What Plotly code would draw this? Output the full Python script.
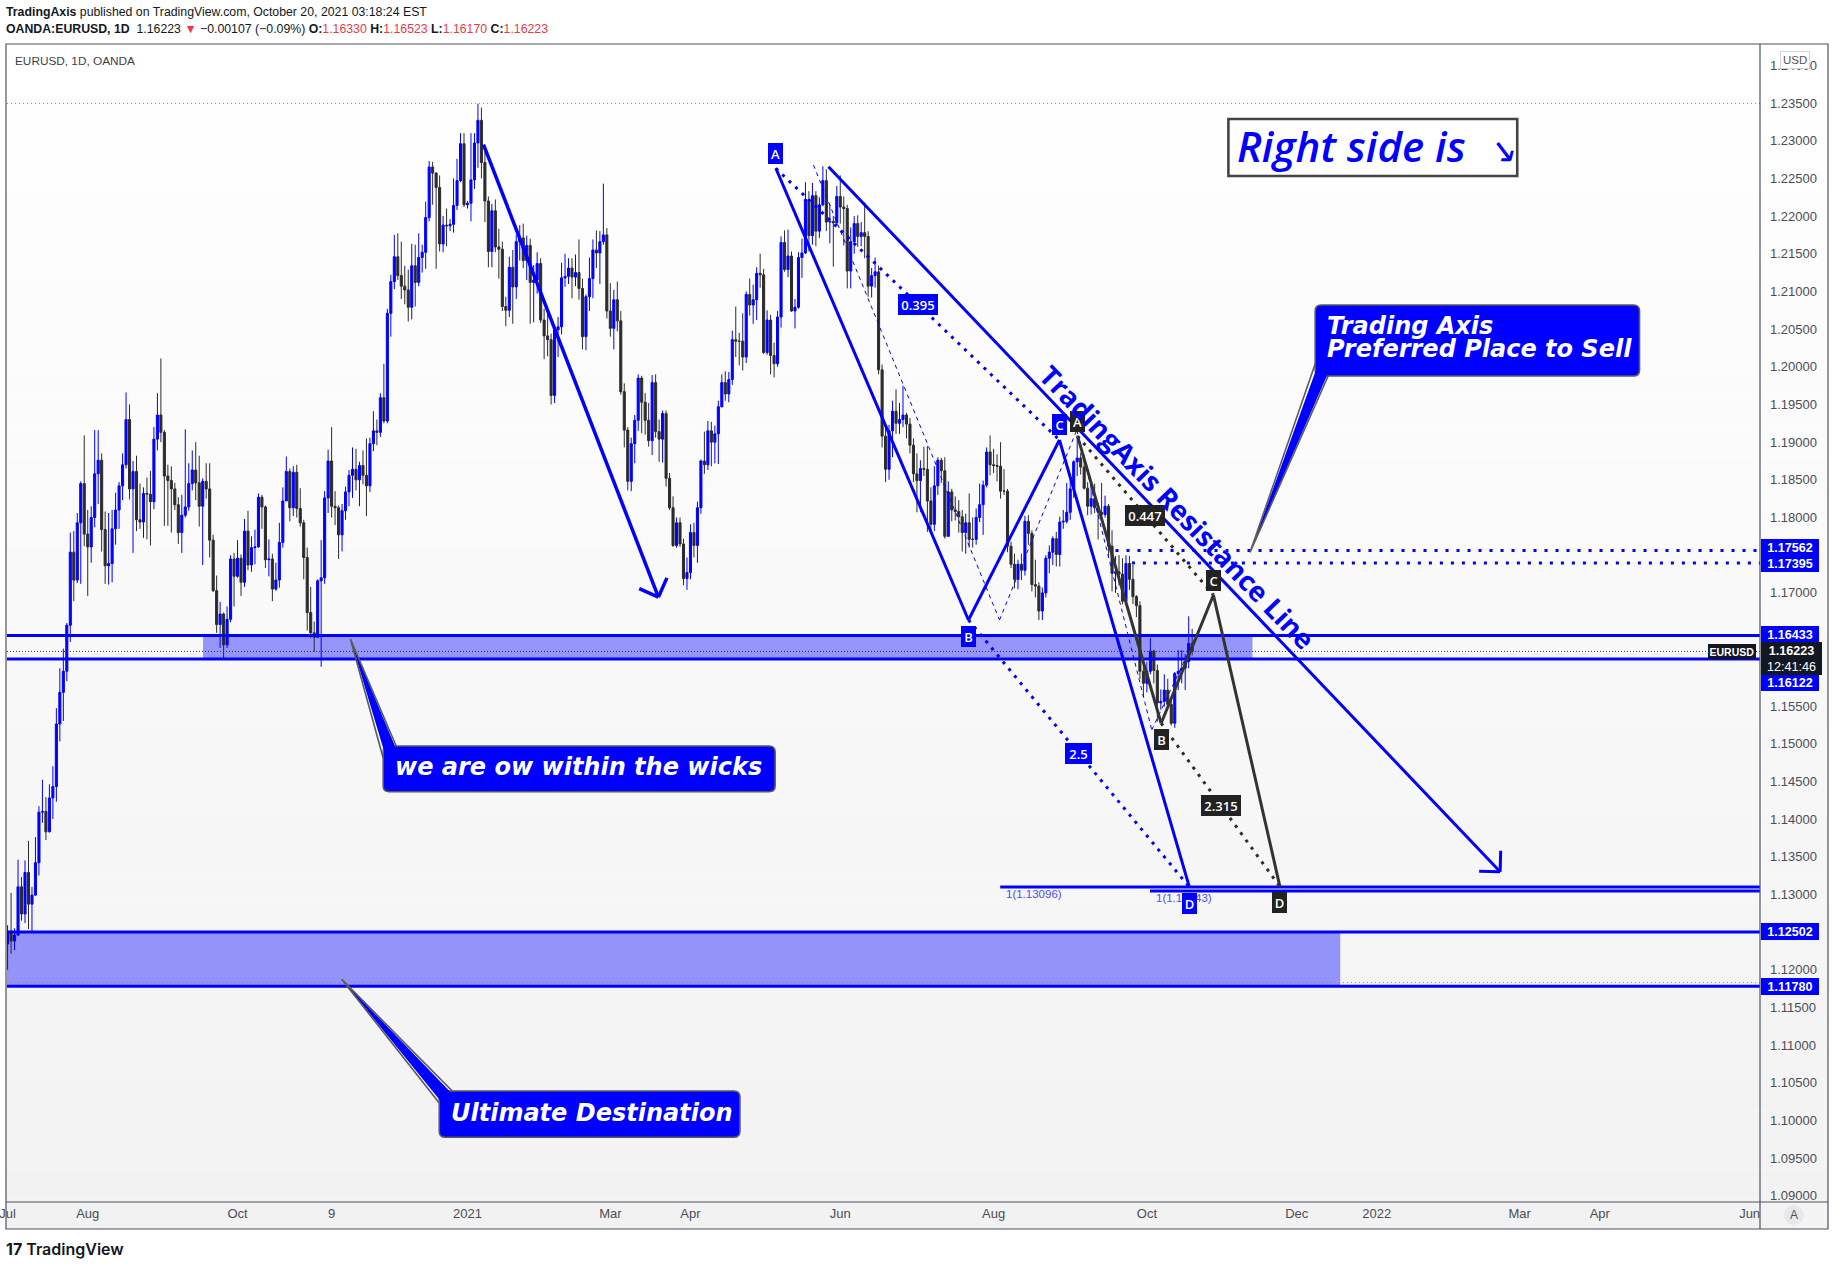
import math
import numpy as np
import pandas as pd
import plotly.graph_objects as go

# ---------------------------------------------------------------- data
# EURUSD daily candles (OANDA), 1 Jul 2020 - 20 Oct 2021, one row per month
open_ = [
    1.1234,1.1251,1.1238,1.1246,1.1310,1.1274,1.1329,1.1287,1.1299,1.1342,1.1409,1.1410,1.1383,1.1428,1.1443,1.1526,1.1568,1.1596,1.1657,1.1754,1.1717,1.1793,1.1845,
    1.1778,1.1761,1.1800,1.1858,1.1876,1.1784,1.1736,1.1739,1.1785,1.1810,1.1842,1.1870,1.1930,1.1838,1.1861,1.1797,1.1794,1.1832,1.1831,1.1821,1.1904,
    1.1936,1.1913,1.1855,1.1849,1.1838,1.1817,1.1780,1.1803,1.1814,1.1845,1.1863,1.1846,1.1815,1.1848,1.1838,1.1770,1.1703,1.1658,1.1672,1.1631,1.1665,1.1745,
    1.1722,1.1746,1.1714,1.1782,1.1737,1.1760,1.1761,1.1827,1.1814,1.1744,1.1745,1.1705,1.1717,1.1767,1.1822,1.1861,1.1813,1.1860,1.1812,1.1793,1.1747,1.1674,
    1.1647,1.1641,1.1716,1.1720,1.1826,1.1875,1.1815,1.1813,1.1777,1.1809,1.1834,1.1856,1.1864,1.1850,1.1869,1.1856,1.1842,1.1898,1.1915,1.1913,1.1959,
    1.1928,1.2071,1.2113,1.2146,1.2121,1.2107,1.2102,1.2079,1.2134,1.2112,1.2145,1.2152,1.2198,1.2265,1.2257,1.2238,1.2163,1.2188,1.2187,1.2189,1.2214,1.2247,1.2296,
    1.2215,1.2217,1.2248,1.2297,1.2327,1.2271,1.2220,1.2153,1.2207,1.2159,1.2156,1.2080,1.2075,1.2132,1.2106,1.2166,1.2171,1.2141,1.2161,1.2112,1.2115,
    1.2137,1.2062,1.2041,1.2036,1.1962,1.2049,1.2053,1.2118,1.2120,1.2131,1.2119,1.2125,1.2104,1.2040,1.2093,1.2117,1.2155,1.2151,1.2166,1.2175,
    1.2074,1.2051,1.2089,1.2061,1.1967,1.1916,1.1848,1.1898,1.1929,1.1985,1.1953,1.1929,1.1902,1.1979,1.1914,1.1904,1.1938,1.1852,1.1813,1.1763,1.1793,1.1765,1.1719,
    1.1727,1.1780,1.1763,1.1813,1.1875,1.1870,1.1915,1.1900,1.1911,1.1947,1.1979,1.1964,1.1983,1.2036,1.2034,1.2034,1.2013,1.2096,1.2082,1.2089,1.2124,1.2122,
    1.2019,1.2062,1.2015,1.2004,1.2066,1.2165,1.2129,1.2147,1.2074,1.2079,1.2145,1.2151,1.2222,1.2174,1.2227,1.2180,1.2215,1.2247,1.2192,1.2193,1.2191,
    1.2226,1.2212,1.2210,1.2127,1.2166,1.2190,1.2173,1.2178,1.2173,1.2107,1.2121,1.2126,1.1996,1.1908,1.1864,1.1915,1.1941,1.1925,1.1930,1.1936,1.1924,1.1896,
    1.1858,1.1849,1.1865,1.1864,1.1822,1.1791,1.1842,1.1876,1.1862,1.1775,1.1834,1.1810,1.1808,1.1801,1.1780,1.1793,1.1771,1.1771,1.1800,1.1817,1.1843,1.1887,
    1.1870,1.1869,1.1868,1.1835,1.1835,1.1762,1.1738,1.1718,1.1738,1.1730,1.1795,1.1779,1.1711,1.1709,1.1676,1.1700,1.1746,1.1754,1.1772,1.1751,1.1794,1.1795,
    1.1807,1.1838,1.1874,1.1879,1.1867,1.1839,1.1815,1.1825,1.1813,1.1807,1.1804,1.1815,1.1762,1.1726,1.1728,1.1725,1.1689,1.1739,1.1718,1.1695,1.1683,1.1596,
    1.1580,1.1596,1.1623,1.1597,1.1554,1.1556,1.1571,1.1552,1.1527,1.1593,1.1596,1.1600,1.1609,1.16330,
]
high = [
    1.1259,1.1302,1.1255,1.1346,1.1323,1.1345,1.1371,1.1310,1.1376,1.1417,1.1452,1.1429,1.1446,1.1470,1.1547,1.1600,1.1626,1.1660,1.1780,1.1782,1.1806,1.1848,1.1909,
    1.1810,1.1815,1.1916,1.1916,1.1885,1.1808,1.1806,1.1810,1.1833,1.1847,1.1885,1.1966,1.1950,1.1875,1.1882,1.1845,1.1840,1.1853,1.1862,1.1920,1.1965,
    1.2011,1.1916,1.1870,1.1868,1.1846,1.1827,1.1830,1.1917,1.1872,1.1889,1.1900,1.1882,1.1852,1.1872,1.1872,1.1777,1.1723,1.1688,1.1674,1.1682,1.1750,1.1753,
    1.1770,1.1751,1.1798,1.1809,1.1775,1.1784,1.1832,1.1830,1.1816,1.1771,1.1752,1.1740,1.1793,1.1840,1.1881,1.1865,1.1868,1.1870,1.1839,1.1797,1.1760,1.1708,
    1.1662,1.1718,1.1770,1.1835,1.1890,1.1920,1.1835,1.1816,1.1818,1.1841,1.1863,1.1893,1.1891,1.1874,1.1889,1.1905,1.1906,1.1941,1.1930,1.1965,1.2004,
    1.2077,1.2122,1.2175,1.2177,1.2166,1.2134,1.2129,1.2163,1.2162,1.2177,1.2162,1.2219,1.2273,1.2272,1.2258,1.2254,1.2200,1.2210,1.2196,1.2250,1.2276,1.2310,1.2310,
    1.2220,1.2310,1.2310,1.2349,1.2344,1.2290,1.2226,1.2216,1.2222,1.2183,1.2166,1.2093,1.2146,1.2155,1.2175,1.2188,1.2190,1.2174,1.2170,1.2135,1.2152,
    1.2144,1.2077,1.2075,1.2044,1.2053,1.2066,1.2138,1.2150,1.2144,1.2144,1.2149,1.2169,1.2117,1.2096,1.2145,1.2169,1.2181,1.2180,1.2243,1.2184,
    1.2111,1.2102,1.2113,1.2074,1.1978,1.1920,1.1906,1.1936,1.1990,1.1988,1.1965,1.1952,1.1989,1.1990,1.1930,1.1942,1.1942,1.1859,1.1828,1.1800,1.1800,1.1772,1.1747,
    1.1791,1.1793,1.1821,1.1877,1.1914,1.1928,1.1927,1.1922,1.1955,1.1990,1.1994,1.1993,1.2048,1.2080,1.2045,1.2071,1.2100,1.2117,1.2109,1.2132,1.2150,1.2130,
    1.2075,1.2069,1.2032,1.2074,1.2173,1.2181,1.2182,1.2153,1.2090,1.2152,1.2170,1.2245,1.2233,1.2244,1.2233,1.2225,1.2266,1.2262,1.2216,1.2200,1.2240,
    1.2254,1.2226,1.2215,1.2185,1.2200,1.2201,1.2192,1.2218,1.2180,1.2131,1.2145,1.2134,1.2003,1.1920,1.1923,1.1955,1.1970,1.1952,1.1975,1.1939,1.1932,1.1905,
    1.1885,1.1876,1.1894,1.1895,1.1840,1.1868,1.1880,1.1879,1.1880,1.1848,1.1838,1.1828,1.1823,1.1810,1.1805,1.1832,1.1800,1.1812,1.1845,1.1849,1.1893,1.1909,
    1.1891,1.1884,1.1900,1.1864,1.1838,1.1768,1.1752,1.1744,1.1752,1.1802,1.1803,1.1783,1.1744,1.1714,1.1707,1.1750,1.1763,1.1775,1.1781,1.1801,1.1810,1.1846,
    1.1857,1.1876,1.1909,1.1886,1.1883,1.1847,1.1844,1.1845,1.1819,1.1846,1.1829,1.1818,1.1783,1.1749,1.1750,1.1746,1.1750,1.1749,1.1737,1.1697,1.1689,1.1610,
    1.1609,1.1640,1.1624,1.1605,1.1572,1.1592,1.1586,1.1559,1.1595,1.1624,1.1624,1.1619,1.1669,1.16523,
]
low = [
    1.1200,1.1221,1.1226,1.1245,1.1265,1.1262,1.1254,1.1250,1.1298,1.1325,1.1395,1.1372,1.1382,1.1400,1.1423,1.1503,1.1530,1.1583,1.1635,1.1689,1.1713,1.1712,1.1762,
    1.1696,1.1740,1.1787,1.1818,1.1755,1.1712,1.1711,1.1714,1.1764,1.1785,1.1823,1.1865,1.1824,1.1753,1.1782,1.1785,1.1773,1.1771,1.1763,1.1811,1.1889,
    1.1900,1.1789,1.1789,1.1780,1.1810,1.1765,1.1753,1.1800,1.1809,1.1836,1.1823,1.1788,1.1737,1.1825,1.1747,1.1701,1.1647,1.1627,1.1612,1.1627,1.1661,1.1682,
    1.1720,1.1696,1.1708,1.1730,1.1728,1.1738,1.1760,1.1785,1.1733,1.1722,1.1689,1.1703,1.1707,1.1760,1.1822,1.1795,1.1802,1.1800,1.1788,1.1718,1.1650,1.1640,
    1.1622,1.1641,1.1602,1.1712,1.1806,1.1800,1.1790,1.1745,1.1755,1.1797,1.1815,1.1826,1.1836,1.1815,1.1844,1.1802,1.1834,1.1888,1.1896,1.1907,1.1925,
    1.1925,1.2040,1.2103,1.2115,1.2090,1.2083,1.2060,1.2063,1.2080,1.2107,1.2125,1.2130,1.2193,1.2215,1.2130,1.2153,1.2152,1.2160,1.2180,1.2178,1.2208,1.2245,1.2212,
    1.2210,1.2193,1.2236,1.2264,1.2250,1.2192,1.2132,1.2132,1.2152,1.2117,1.2074,1.2054,1.2066,1.2057,1.2090,1.2141,1.2131,1.2115,1.2057,1.2059,1.2097,
    1.2058,1.2010,1.2014,1.1950,1.1952,1.2013,1.2043,1.2106,1.2110,1.2091,1.2107,1.2089,1.2023,1.2022,1.2074,1.2091,1.2131,1.2110,1.2162,1.2064,
    1.2040,1.2023,1.2047,1.1963,1.1893,1.1836,1.1835,1.1872,1.1915,1.1912,1.1910,1.1894,1.1883,1.1906,1.1874,1.1873,1.1841,1.1810,1.1761,1.1760,1.1761,1.1710,1.1704,
    1.1718,1.1747,1.1740,1.1805,1.1858,1.1863,1.1868,1.1872,1.1871,1.1946,1.1955,1.1953,1.1976,1.2013,1.2002,1.1995,1.2005,1.2068,1.2057,1.2062,1.2105,1.2017,
    1.2016,1.1990,1.1986,1.2000,1.2052,1.2126,1.2119,1.2073,1.2051,1.2077,1.2118,1.2150,1.2153,1.2162,1.2160,1.2171,1.2213,1.2180,1.2164,1.2133,1.2187,
    1.2190,1.2161,1.2104,1.2104,1.2150,1.2159,1.2160,1.2144,1.2093,1.2092,1.2105,1.1990,1.1893,1.1847,1.1850,1.1880,1.1911,1.1911,1.1920,1.1905,1.1885,1.1847,
    1.1807,1.1807,1.1855,1.1781,1.1781,1.1782,1.1830,1.1846,1.1772,1.1775,1.1795,1.1796,1.1780,1.1755,1.1752,1.1760,1.1760,1.1764,1.1794,1.1777,1.1840,1.1856,
    1.1859,1.1848,1.1825,1.1830,1.1754,1.1733,1.1706,1.1705,1.1717,1.1723,1.1764,1.1702,1.1694,1.1664,1.1664,1.1694,1.1726,1.1737,1.1735,1.1735,1.1785,1.1792,
    1.1797,1.1826,1.1855,1.1857,1.1837,1.1803,1.1804,1.1806,1.1771,1.1799,1.1800,1.1747,1.1702,1.1700,1.1710,1.1685,1.1684,1.1704,1.1685,1.1668,1.1586,1.1562,
    1.1568,1.1592,1.1580,1.1529,1.1545,1.1549,1.1549,1.1524,1.1521,1.1571,1.1580,1.1571,1.1600,1.16170,
]
close = [
    1.1251,1.1238,1.1246,1.1310,1.1274,1.1329,1.1287,1.1299,1.1342,1.1409,1.1410,1.1383,1.1428,1.1443,1.1526,1.1568,1.1596,1.1657,1.1754,1.1717,1.1793,1.1845,1.1778,
    1.1761,1.1800,1.1858,1.1876,1.1784,1.1736,1.1739,1.1785,1.1810,1.1842,1.1870,1.1930,1.1838,1.1861,1.1797,1.1794,1.1832,1.1831,1.1821,1.1904,1.1936,
    1.1913,1.1855,1.1849,1.1838,1.1817,1.1780,1.1803,1.1814,1.1845,1.1863,1.1846,1.1815,1.1848,1.1838,1.1770,1.1703,1.1658,1.1672,1.1631,1.1665,1.1745,1.1722,
    1.1746,1.1714,1.1782,1.1737,1.1760,1.1761,1.1827,1.1814,1.1744,1.1745,1.1705,1.1717,1.1767,1.1822,1.1861,1.1813,1.1860,1.1812,1.1793,1.1747,1.1674,1.1647,
    1.1641,1.1716,1.1720,1.1826,1.1875,1.1815,1.1813,1.1777,1.1809,1.1834,1.1856,1.1864,1.1850,1.1869,1.1856,1.1842,1.1898,1.1915,1.1913,1.1959,1.1928,
    1.2071,1.2113,1.2146,1.2121,1.2107,1.2102,1.2079,1.2134,1.2112,1.2145,1.2152,1.2198,1.2265,1.2257,1.2238,1.2163,1.2188,1.2187,1.2189,1.2214,1.2247,1.2296,1.2215,
    1.2217,1.2248,1.2297,1.2327,1.2271,1.2220,1.2153,1.2207,1.2159,1.2156,1.2080,1.2075,1.2132,1.2106,1.2166,1.2171,1.2141,1.2161,1.2112,1.2115,1.2137,
    1.2062,1.2041,1.2036,1.1962,1.2049,1.2053,1.2118,1.2120,1.2131,1.2119,1.2125,1.2104,1.2040,1.2093,1.2117,1.2155,1.2151,1.2166,1.2175,1.2074,
    1.2051,1.2089,1.2061,1.1967,1.1916,1.1848,1.1898,1.1929,1.1985,1.1953,1.1929,1.1902,1.1979,1.1914,1.1904,1.1938,1.1852,1.1813,1.1763,1.1793,1.1765,1.1719,1.1727,
    1.1780,1.1763,1.1813,1.1875,1.1870,1.1915,1.1900,1.1911,1.1947,1.1979,1.1964,1.1983,1.2036,1.2034,1.2034,1.2013,1.2096,1.2082,1.2089,1.2124,1.2122,1.2019,
    1.2062,1.2015,1.2004,1.2066,1.2165,1.2129,1.2147,1.2074,1.2079,1.2145,1.2151,1.2222,1.2174,1.2227,1.2180,1.2215,1.2247,1.2192,1.2193,1.2191,1.2226,
    1.2212,1.2210,1.2127,1.2166,1.2190,1.2173,1.2178,1.2173,1.2107,1.2121,1.2126,1.1996,1.1908,1.1864,1.1915,1.1941,1.1925,1.1930,1.1936,1.1924,1.1896,1.1858,
    1.1849,1.1865,1.1864,1.1822,1.1791,1.1842,1.1876,1.1862,1.1775,1.1834,1.1810,1.1808,1.1801,1.1780,1.1793,1.1771,1.1771,1.1800,1.1817,1.1843,1.1887,1.1870,
    1.1869,1.1868,1.1835,1.1835,1.1762,1.1738,1.1718,1.1738,1.1730,1.1795,1.1779,1.1711,1.1709,1.1676,1.1700,1.1746,1.1754,1.1772,1.1751,1.1794,1.1795,1.1807,
    1.1838,1.1874,1.1879,1.1867,1.1839,1.1815,1.1825,1.1813,1.1807,1.1804,1.1815,1.1762,1.1726,1.1728,1.1725,1.1689,1.1739,1.1718,1.1695,1.1683,1.1596,1.1580,
    1.1596,1.1623,1.1597,1.1554,1.1556,1.1571,1.1552,1.1527,1.1593,1.1596,1.1600,1.1609,1.16330,1.16223,
]
first_day = "2020-07-01"
dates = pd.bdate_range(first_day, "2021-10-20")
assert len(dates) == len(open_) == len(high) == len(low) == len(close)

# time-axis labels
x_tick_dates = ["2020-07-01", "2020-08-03", "2020-10-01", "2020-11-09", "2021-01-01", "2021-03-01",
                "2021-04-01", "2021-06-01", "2021-08-02", "2021-10-01", "2021-12-01", "2022-01-03",
                "2022-03-01", "2022-04-01", "2022-06-01"]
x_tick_text = ["Jul", "Aug", "Oct", "9", "2021", "Mar", "Apr", "Jun", "Aug", "Oct", "Dec", "2022",
               "Mar", "Apr", "Jun"]
# price-axis labels (levels hidden behind price tags are left out)
y_tick_vals = [1.240, 1.235, 1.230, 1.225, 1.220, 1.215, 1.210, 1.205, 1.200, 1.195, 1.190, 1.185,
               1.180, 1.170, 1.155, 1.150, 1.145, 1.140, 1.135, 1.130, 1.120, 1.115, 1.110, 1.105,
               1.100, 1.095, 1.090]

# drawings, in (bar index from 1 Jul 2020, price)
ath_level = 1.23494
range_low_level = 1.1183
zone_wicks = [1.16122, 1.16433]
zone_wicks_x = [56.1, 357.3]
zone_dest = [1.11780, 1.12502]
zone_dest_x = [-1.0, 382.5]
sell_levels = [1.17562, 1.17395]
sell_levels_x = [318.0, 322.7]
d_levels = [1.13096, 1.13043]
d_levels_x = [284.9, 327.9]
d_level_text = ["1(1.13096)", "1(1.13043)"]

blue_x = [220.5, 275.8, 301.9, 339.2]
blue_y = [1.22634, 1.16640, 1.19029, 1.13096]
black_x = [307.1, 331.1, 346.1, 365.2]
black_y = [1.19080, 1.15270, 1.16972, 1.13100]
pattern_letters = ["A", "B", "C", "D"]
blue_ratios = ["0.395", "2.5"]
black_ratios = ["0.447", "2.315"]
ghost_x = [231.3, 284.7, 306.9, 328.4, 344.2]
ghost_y = [1.22677, 1.16640, 1.19161, 1.15181, 1.16729]

resist_x = [235.6, 428.4]
resist_y = [1.22655, 1.13301]
resist_label = (335.9, 1.18135)
arrow1_x = [136.6, 186.8]
arrow1_y = [1.22947, 1.16944]

callouts = [
    dict(text="we are ow within the wicks", target=(98.4, 1.16389), box=(107.8, 1.14969, 220.3, 1.14362), corner="tl"),
    dict(text="Ultimate Destination", target=(95.9, 1.11873), box=(123.9, 1.10391, 210.2, 1.09777), corner="tl"),
    dict(text=["Trading Axis", "Preferred Place to Sell"], target=(356.6, 1.17537), box=(375.3, 1.20820, 468.4, 1.19878), corner="bl"),
]
right_box = (350.4, 1.23287, 433.3, 1.22531)

# ---------------------------------------------------------------- geometry
W, H = 1835, 1267
L, R, T, B = 7, 1760, 44, 1202
X0, X1 = -0.17, 502.98
Y0, Y1 = 1.08918, 1.24283
PW, PH = R - L, B - T


def px(i): return L + (i - X0) / (X1 - X0) * PW
def py(p): return B - (p - Y0) / (Y1 - Y0) * PH
def dxv(v): return X0 + (v - L) / PW * (X1 - X0)
def dyv(v): return Y0 + (B - v) / PH * (Y1 - Y0)
def xp(v): return (v - L) / PW
def yp(v): return (B - v) / PH
def P(pt): return f"{xp(pt[0]):.6f},{yp(pt[1]):.6f}"


BLUE = "#0000ff"
DARK = "#2b2b2b"
FRAME = "#50535e"
AXIS_FONT = "Liberation Sans"
AX_COL = "#4a4d57"
RED = "#f23645"

bar_x = np.busday_count(np.datetime64(first_day), dates.values.astype("datetime64[D]"))
x_tick_pos = np.busday_count(np.datetime64(first_day), np.array(x_tick_dates, dtype="datetime64[D]"))

shapes, ann = [], []


def seg(x0, y0, x1, y1, color, width, dash="solid", layer="above"):
    shapes.append(dict(type="line", xref="x", yref="y", x0=x0, y0=y0, x1=x1, y1=y1,
                       line=dict(color=color, width=width, dash=dash), layer=layer))


def poly(xs, ys, color, width, dash="solid"):
    for k in range(len(xs) - 1):
        seg(xs[k], ys[k], xs[k + 1], ys[k + 1], color, width, dash)


def arrow_head(xa, ya, xb, yb, color, width, size=21):
    ax_, ay_, bx_, by_ = px(xa), py(ya), px(xb), py(yb)
    ang = math.atan2(ay_ - by_, ax_ - bx_)
    for s in (1, -1):
        a = ang + s * math.radians(45)
        seg(dxv(bx_ + size * math.cos(a)), dyv(by_ + size * math.sin(a)), xb, yb, color, width)


def ptext(x, y, text, size, color="#131722", family=AXIS_FONT, xanchor="left", **kw):
    d = dict(xref="paper", yref="paper", x=xp(x), y=yp(y), text=text, showarrow=False,
             xanchor=xanchor, yanchor="middle", borderpad=0, borderwidth=0,
             font=dict(family=family, size=size, color=color, **kw.pop("font", {})))
    d.update(kw)
    ann.append(d)


# ---------------- background gradient and frame
FX0, FX1, FY0, FY1 = 6, 1828, 44, 1229
NB = 40
for k in range(NB):
    ya, yb = FY0 + (FY1 - FY0) * k / NB, FY0 + (FY1 - FY0) * (k + 1) / NB
    c = round(255 - 13 * (k + 0.5) / NB)
    shapes.append(dict(type="rect", xref="paper", yref="paper", x0=xp(FX0), x1=xp(FX1),
                       y0=yp(yb), y1=yp(ya), fillcolor=f"rgb({c},{c},{c})", line=dict(width=0),
                       layer="below"))

# ---------------- zones (fills under candles)
shapes.append(dict(type="rect", xref="x", yref="y", x0=zone_wicks_x[0], x1=zone_wicks_x[1],
                   y0=zone_wicks[0], y1=zone_wicks[1], fillcolor="rgba(0,0,255,0.4)",
                   line=dict(width=0), layer="below"))
shapes.append(dict(type="rect", xref="x", yref="y", x0=zone_dest_x[0], x1=zone_dest_x[1],
                   y0=zone_dest[0], y1=zone_dest[1], fillcolor="rgba(0,0,255,0.4)",
                   line=dict(width=0), layer="below"))

# ---------------- horizontal levels
seg(X0, ath_level, X1, ath_level, "#8a8d96", 1, "1px,3px")
seg(X0, range_low_level, X1, range_low_level, "#8a8d96", 1, "1px,3px")
seg(X0, close[-1], X1, close[-1], "#333333", 1, "1px,2px")
for lv in zone_wicks + zone_dest:
    seg(X0, lv, X1, lv, BLUE, 3)
for lv, x0 in zip(d_levels, d_levels_x):
    seg(x0, lv, X1, lv, BLUE, 3)
for lv, x0 in zip(sell_levels, sell_levels_x):
    seg(x0, lv, X1, lv, BLUE, 3, "3px,8px")

# ---------------- harmonic patterns
poly(ghost_x, ghost_y, BLUE, 1, "4px,4px")
seg(blue_x[0], blue_y[0], blue_x[2], blue_y[2], BLUE, 3, "3px,6px")
seg(blue_x[1], blue_y[1], blue_x[3], blue_y[3], BLUE, 3, "3px,6px")
poly(blue_x, blue_y, BLUE, 3)
seg(black_x[0], black_y[0], black_x[2], black_y[2], DARK, 3, "3px,6px")
seg(black_x[1], black_y[1], black_x[3], black_y[3], DARK, 3, "3px,6px")
poly(black_x, black_y, "#333333", 3)

# ---------------- resistance line and arrow
seg(resist_x[0], resist_y[0], resist_x[1], resist_y[1], BLUE, 3)
arrow_head(resist_x[0], resist_y[0], resist_x[1], resist_y[1], BLUE, 3)
seg(arrow1_x[0], arrow1_y[0], arrow1_x[1], arrow1_y[1], BLUE, 3.5)
arrow_head(arrow1_x[0], arrow1_y[0], arrow1_x[1], arrow1_y[1], BLUE, 3.5)


# ---------------- callouts
def rounded(x0, y0, x1, y1, r):
    return (f"M{P((x0 + r, y0))} L{P((x1 - r, y0))} Q{P((x1, y0))} {P((x1, y0 + r))} "
            f"L{P((x1, y1 - r))} Q{P((x1, y1))} {P((x1 - r, y1))} L{P((x0 + r, y1))} "
            f"Q{P((x0, y1))} {P((x0, y1 - r))} L{P((x0, y0 + r))} Q{P((x0, y0))} {P((x0 + r, y0))} Z")


for co in callouts:
    bx0, by0, bx1, by1 = co["box"]
    x0, y0, x1, y1 = px(bx0), py(by0), px(bx1), py(by1)
    tgt = (px(co["target"][0]), py(co["target"][1]))
    shapes.append(dict(type="path", xref="paper", yref="paper", path=rounded(x0, y0, x1, y1, 6),
                       fillcolor=BLUE, line=dict(color="#5a5a5a", width=1.6), layer="above"))
    if co["corner"] == "tl":
        b1e, b2e = (x0 + 13, y0), (x0, y0 + 12)
        b1i, b2i = (x0 + 13, y0 + 3), (x0 + 3, y0 + 12)
    else:
        b1e, b2e = (x0 + 13, y1), (x0, y1 - 12)
        b1i, b2i = (x0 + 13, y1 - 3), (x0 + 3, y1 - 12)
    shapes.append(dict(type="path", xref="paper", yref="paper",
                       path=f"M{P(b1i)} L{P(tgt)} L{P(b2i)} Z", fillcolor=BLUE,
                       line=dict(width=0), layer="above"))
    shapes.append(dict(type="path", xref="paper", yref="paper",
                       path=f"M{P(b1e)} L{P(tgt)} L{P(b2e)}", fillcolor="rgba(0,0,0,0)",
                       line=dict(color="#5a5a5a", width=1.6), layer="above"))
    if isinstance(co["text"], list):
        for j, line_txt in enumerate(co["text"]):
            ptext(x0 + 12, y0 + 21 + 23.3 * j, line_txt, 24, family="DejaVu Sans",
                  font=dict(weight="bold", style="italic"), color="white")
    else:
        ptext(x0 + 12, (y0 + y1) / 2 - 1.5, co["text"], 24, family="DejaVu Sans",
              font=dict(weight="bold", style="italic"), color="white")

# "Right side is" box
rx0, ry0, rx1, ry1 = px(right_box[0]), py(right_box[1]), px(right_box[2]), py(right_box[3])
shapes.append(dict(type="rect", xref="paper", yref="paper", x0=xp(rx0), x1=xp(rx1), y0=yp(ry1),
                   y1=yp(ry0), fillcolor="white", line=dict(color="#444444", width=2.6), layer="above"))
ptext(rx0 + 9, (ry0 + ry1) / 2 - 2,
      'Right side is&nbsp; <span style="font-size:34px;font-weight:400">↘</span>', 42,
      family="Open Sans", color=BLUE, font=dict(weight=600, style="italic"))

# ---------------- frame, axis separators
shapes.append(dict(type="rect", xref="paper", yref="paper", x0=xp(R + 0.5), x1=xp(FX1 - 0.5),
                   y0=yp(FY1 - 0.5), y1=yp(B + 0.5), fillcolor="rgb(243,243,243)",
                   line=dict(width=0), layer="above"))
shapes.append(dict(type="rect", xref="paper", yref="paper", x0=xp(FX0), x1=xp(FX1), y0=yp(FY1),
                   y1=yp(FY0), fillcolor="rgba(0,0,0,0)", line=dict(color=FRAME, width=1.2),
                   layer="above"))
shapes.append(dict(type="line", xref="paper", yref="paper", x0=xp(R), x1=xp(R), y0=yp(FY1),
                   y1=yp(FY0), line=dict(color=FRAME, width=1.2), layer="above"))
shapes.append(dict(type="line", xref="paper", yref="paper", x0=xp(FX0), x1=xp(FX1), y0=yp(B),
                   y1=yp(B), line=dict(color=FRAME, width=1.2), layer="above"))
shapes.append(dict(type="circle", xref="paper", yref="paper", x0=xp(1784), x1=xp(1804),
                   y0=yp(1225), y1=yp(1205), fillcolor="#e7e8ec", line=dict(width=0), layer="above"))

# ---------------- pattern tags


def tag(x, y, text, bg, yshift=0, width=None):
    d = dict(xref="x", yref="y", x=x, y=y, text=text, showarrow=False, bgcolor=bg,
             borderpad=1.5, borderwidth=0, yshift=yshift,
             font=dict(family="Open Sans", size=13, color="white", weight=600))
    if width:
        d["width"] = width
    ann.append(d)


for xs, ys, bg, ratios in ((blue_x, blue_y, BLUE, blue_ratios), (black_x, black_y, "#222222", black_ratios)):
    tag((xs[0] + xs[2]) / 2, (ys[0] + ys[2]) / 2, ratios[0], bg, width=37)
    tag((xs[1] + xs[3]) / 2, (ys[1] + ys[3]) / 2, ratios[1], bg, width=37 if len(ratios[1]) > 3 else 24)

for txt, lv, x0 in zip(d_level_text, d_levels, d_levels_x):
    ann.append(dict(xref="x", yref="y", x=x0, y=lv, text=txt, showarrow=False, xanchor="left",
                    yanchor="top", xshift=6, yshift=-1, borderpad=0, borderwidth=0,
                    font=dict(family=AXIS_FONT, size=11.5, color="#4d4df5")))

for xs, ys, bg in ((blue_x, blue_y, BLUE), (black_x, black_y, "#222222")):
    for k, letter in enumerate(pattern_letters):
        tag(xs[k], ys[k], letter, bg, yshift=(15 if k in (0, 2) else -16), width=12)

ann.append(dict(xref="x", yref="y", x=resist_label[0], y=resist_label[1],
                text="TradingAxis Resistance Line", textangle=46, showarrow=False,
                font=dict(family="Open Sans", size=27.5, color=BLUE, weight="bold")))

# ---------------- price-axis tags


def axis_tag(price, text, bg, yshift=0, width=55, yanchor="middle"):
    ann.append(dict(xref="paper", x=xp(R + 1), xanchor="left", yref="y", y=price, yanchor=yanchor,
                    yshift=yshift, text=text, showarrow=False, bgcolor=bg, borderpad=1.5,
                    borderwidth=0, width=width, align="center",
                    font=dict(family=AXIS_FONT, size=12.6, color="white", weight="bold")))


axis_tag(sell_levels[0], f"{sell_levels[0]:.5f}", BLUE, yshift=3)
axis_tag(sell_levels[1], f"{sell_levels[1]:.5f}", BLUE)
axis_tag(zone_wicks[1], f"{zone_wicks[1]:.5f}", BLUE, yshift=1)
axis_tag(zone_wicks[0], f"{zone_wicks[0]:.5f}", BLUE, yshift=-23)
axis_tag(zone_dest[1], f"{zone_dest[1]:.5f}", BLUE)
axis_tag(zone_dest[0], f"{zone_dest[0]:.5f}", BLUE)
axis_tag(close[-1], f"{close[-1]:.5f}<br><span style='font-weight:normal'>12:41:46</span>", "#131722",
         yshift=9.5, width=58, yanchor="top")
ann.append(dict(xref="paper", x=xp(R - 4), xanchor="right", yref="y", y=close[-1], yanchor="middle",
                text="EURUSD", showarrow=False, bgcolor="#131722", borderpad=1.5, borderwidth=0,
                font=dict(family=AXIS_FONT, size=10.5, color="white", weight="bold")))
ann.append(dict(xref="paper", yref="paper", x=xp(1795), y=yp(60), xanchor="center", yanchor="middle",
                text="USD", showarrow=False,
                bgcolor="white", bordercolor="#d1d4dc", borderwidth=1, borderpad=2,
                font=dict(family=AXIS_FONT, size=11.5, color="#50535e")))
ptext(1794, 1215, "A", 12, color="#50535e", xanchor="center")

# ---------------- header / legend / footer
o, h, l_, c = open_[-1], high[-1], low[-1], close[-1]
chg = c - close[-2]
pct = chg / close[-2] * 100
ptext(6, 12, "<b>TradingAxis</b> published on TradingView.com, October 20, 2021 03:18:24 EST", 12.3)
ptext(6, 29, (f"<b>OANDA:EURUSD, 1D</b>  {c:.5f} <span style='color:{RED}'>▼</span> "
              f"−{abs(chg):.5f} (−{abs(pct):.2f}%) "
              f"<b>O:</b><span style='color:{RED}'>{o:.5f}</span> "
              f"<b>H:</b><span style='color:{RED}'>{h:.5f}</span> "
              f"<b>L:</b><span style='color:{RED}'>{l_:.5f}</span> "
              f"<b>C:</b><span style='color:{RED}'>{c:.5f}</span>"), 12.3)
ptext(15, 61, "EURUSD, 1D, OANDA", 11.8, color="#3c3f48")
ptext(6, 1249, "<b>17</b> TradingView", 16, family="Inter", color="#131722", font=dict(weight=600))

# ---------------- figure
fig = go.Figure()
fig.add_trace(go.Candlestick(
    x=bar_x, open=open_, high=high, low=low, close=close,
    increasing=dict(line=dict(color=BLUE, width=1), fillcolor=BLUE),
    decreasing=dict(line=dict(color=DARK, width=1), fillcolor=DARK),
    whiskerwidth=0, hoverinfo="skip", showlegend=False))

fig.update_layout(
    width=W, height=H, margin=dict(l=L, r=W - R, t=T, b=H - B, pad=0, autoexpand=False),
    paper_bgcolor="white", plot_bgcolor="rgba(0,0,0,0)", boxgap=0.15,
    showlegend=False, shapes=shapes, annotations=ann,
    xaxis=dict(range=[X0, X1], showgrid=False, zeroline=False, showline=False, ticks="",
               tickvals=x_tick_pos, ticktext=x_tick_text, ticklabelstandoff=2, automargin=False,
               ticklabeloverflow="allow",
               tickfont=dict(family=AXIS_FONT, size=13, color=AX_COL),
               rangeslider=dict(visible=False), fixedrange=True),
    yaxis=dict(range=[Y0, Y1], side="right", showgrid=False, zeroline=False, showline=False,
               ticks="", tickvals=y_tick_vals, ticktext=[f"{v:.5f}" for v in y_tick_vals],
               ticklabelstandoff=9, automargin=False, ticklabeloverflow="allow",
               tickfont=dict(family=AXIS_FONT, size=13, color=AX_COL),
               fixedrange=True),
)
# the page's default 8px body margin would offset the whole chart
fig.write_html("out.html", config={"displayModeBar": False},
               post_script="document.body.style.margin='0px';")
